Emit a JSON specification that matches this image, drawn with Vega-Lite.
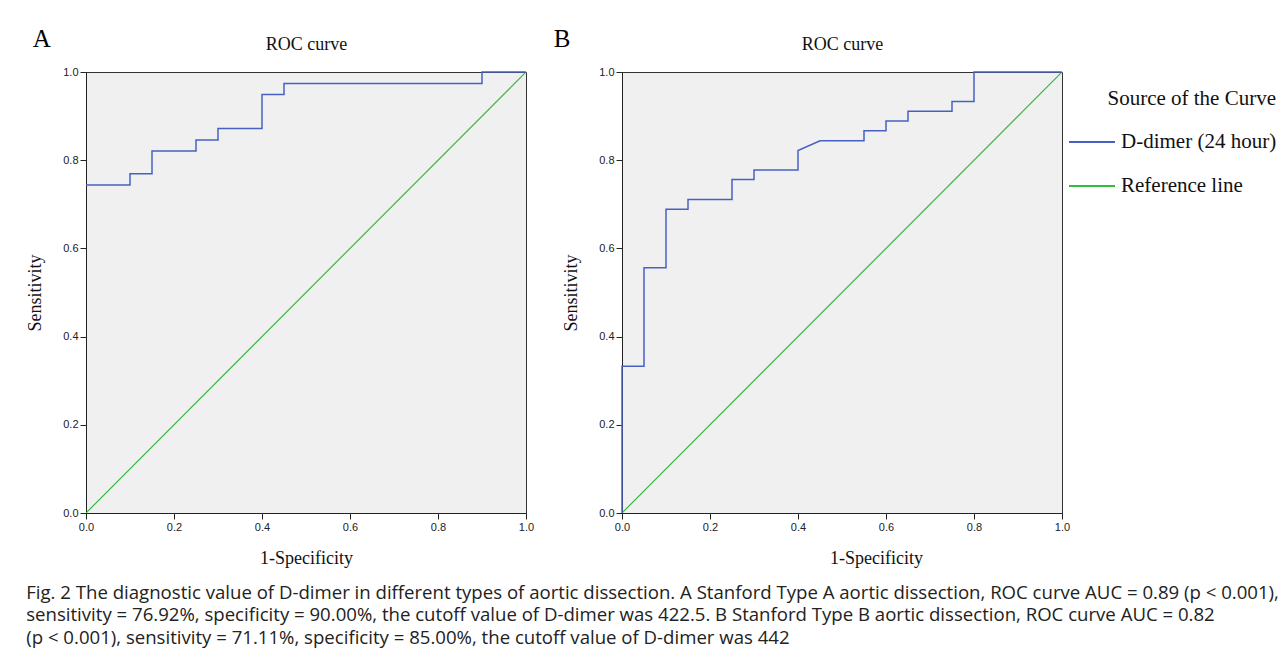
{
  "$schema": "https://vega.github.io/schema/vega-lite/v6.json",
  "background": "white",
  "padding": {"left": 26, "top": 26, "right": 0, "bottom": 8},
  "datasets": {
    "rocA": [
      {"fpr": 0.0, "tpr": 0.744, "i": 1, "series": "D-dimer (24 hour)"},
      {"fpr": 0.1, "tpr": 0.744, "i": 2, "series": "D-dimer (24 hour)"},
      {"fpr": 0.1, "tpr": 0.769, "i": 3, "series": "D-dimer (24 hour)"},
      {"fpr": 0.15, "tpr": 0.769, "i": 4, "series": "D-dimer (24 hour)"},
      {"fpr": 0.15, "tpr": 0.821, "i": 5, "series": "D-dimer (24 hour)"},
      {"fpr": 0.25, "tpr": 0.821, "i": 6, "series": "D-dimer (24 hour)"},
      {"fpr": 0.25, "tpr": 0.846, "i": 7, "series": "D-dimer (24 hour)"},
      {"fpr": 0.3, "tpr": 0.846, "i": 8, "series": "D-dimer (24 hour)"},
      {"fpr": 0.3, "tpr": 0.872, "i": 9, "series": "D-dimer (24 hour)"},
      {"fpr": 0.4, "tpr": 0.872, "i": 10, "series": "D-dimer (24 hour)"},
      {"fpr": 0.4, "tpr": 0.949, "i": 11, "series": "D-dimer (24 hour)"},
      {"fpr": 0.45, "tpr": 0.949, "i": 12, "series": "D-dimer (24 hour)"},
      {"fpr": 0.45, "tpr": 0.974, "i": 13, "series": "D-dimer (24 hour)"},
      {"fpr": 0.9, "tpr": 0.974, "i": 14, "series": "D-dimer (24 hour)"},
      {"fpr": 0.9, "tpr": 1.0, "i": 15, "series": "D-dimer (24 hour)"},
      {"fpr": 1.0, "tpr": 1.0, "i": 16, "series": "D-dimer (24 hour)"}
    ],
    "rocB": [
      {"fpr": 0.0, "tpr": 0.0, "i": 1, "series": "D-dimer (24 hour)"},
      {"fpr": 0.0, "tpr": 0.333, "i": 2, "series": "D-dimer (24 hour)"},
      {"fpr": 0.05, "tpr": 0.333, "i": 3, "series": "D-dimer (24 hour)"},
      {"fpr": 0.05, "tpr": 0.556, "i": 4, "series": "D-dimer (24 hour)"},
      {"fpr": 0.1, "tpr": 0.556, "i": 5, "series": "D-dimer (24 hour)"},
      {"fpr": 0.1, "tpr": 0.689, "i": 6, "series": "D-dimer (24 hour)"},
      {"fpr": 0.15, "tpr": 0.689, "i": 7, "series": "D-dimer (24 hour)"},
      {"fpr": 0.15, "tpr": 0.711, "i": 8, "series": "D-dimer (24 hour)"},
      {"fpr": 0.25, "tpr": 0.711, "i": 9, "series": "D-dimer (24 hour)"},
      {"fpr": 0.25, "tpr": 0.756, "i": 10, "series": "D-dimer (24 hour)"},
      {"fpr": 0.3, "tpr": 0.756, "i": 11, "series": "D-dimer (24 hour)"},
      {"fpr": 0.3, "tpr": 0.778, "i": 12, "series": "D-dimer (24 hour)"},
      {"fpr": 0.4, "tpr": 0.778, "i": 13, "series": "D-dimer (24 hour)"},
      {"fpr": 0.4, "tpr": 0.822, "i": 14, "series": "D-dimer (24 hour)"},
      {"fpr": 0.45, "tpr": 0.844, "i": 15, "series": "D-dimer (24 hour)"},
      {"fpr": 0.55, "tpr": 0.844, "i": 16, "series": "D-dimer (24 hour)"},
      {"fpr": 0.55, "tpr": 0.867, "i": 17, "series": "D-dimer (24 hour)"},
      {"fpr": 0.6, "tpr": 0.867, "i": 18, "series": "D-dimer (24 hour)"},
      {"fpr": 0.6, "tpr": 0.889, "i": 19, "series": "D-dimer (24 hour)"},
      {"fpr": 0.65, "tpr": 0.889, "i": 20, "series": "D-dimer (24 hour)"},
      {"fpr": 0.65, "tpr": 0.911, "i": 21, "series": "D-dimer (24 hour)"},
      {"fpr": 0.75, "tpr": 0.911, "i": 22, "series": "D-dimer (24 hour)"},
      {"fpr": 0.75, "tpr": 0.933, "i": 23, "series": "D-dimer (24 hour)"},
      {"fpr": 0.8, "tpr": 0.933, "i": 24, "series": "D-dimer (24 hour)"},
      {"fpr": 0.8, "tpr": 1.0, "i": 25, "series": "D-dimer (24 hour)"},
      {"fpr": 1.0, "tpr": 1.0, "i": 26, "series": "D-dimer (24 hour)"}
    ],
    "ref": [
      {"fpr": 0.0, "tpr": 0.0, "i": 1, "series": "Reference line"},
      {"fpr": 1.0, "tpr": 1.0, "i": 2, "series": "Reference line"}
    ]
  },
  "hconcat": [
    {
      "width": 440,
      "height": 441,
      "title": {"text": "A", "anchor": "start", "frame": "bounds", "fontSize": 25, "font": "Liberation Serif", "fontWeight": "normal", "offset": -17, "dx": 6},
      "layer": [
        {
          "data": {"name": "ref"},
          "mark": {"type": "line", "strokeWidth": 1.2, "clip": true},
          "encoding": {
            "x": {"field": "fpr", "type": "quantitative", "scale": {"domain": [0, 1], "nice": false},
                  "axis": {"orient": "top", "title": "ROC curve", "labels": false, "ticks": false, "domain": false, "grid": false, "titlePadding": 19}},
            "y": {"field": "tpr", "type": "quantitative", "scale": {"domain": [0, 1], "nice": false}, "axis": {"title": "Sensitivity", "values": [0, 0.2, 0.4, 0.6, 0.8, 1.0]}},
            "color": {"field": "series", "type": "nominal", "legend": {"title": "Source of the Curve"}},
            "order": {"field": "i", "type": "quantitative"}
          }
        },
        {
          "data": {"name": "rocA"},
          "mark": {"type": "line", "strokeWidth": 1.5, "clip": false},
          "encoding": {
            "x": {"field": "fpr", "type": "quantitative", "scale": {"domain": [0, 1], "nice": false}, "axis": {"title": "1-Specificity", "values": [0, 0.2, 0.4, 0.6, 0.8, 1.0]}},
            "y": {"field": "tpr", "type": "quantitative", "scale": {"domain": [0, 1], "nice": false}},
            "color": {"field": "series", "type": "nominal", "legend": {"title": "Source of the Curve"}},
            "order": {"field": "i", "type": "quantitative"}
          }
        }
      ],
      "resolve": {"axis": {"x": "independent"}}
    },
    {
      "width": 440,
      "height": 441,
      "title": {"text": "B", "anchor": "start", "frame": "bounds", "fontSize": 25, "font": "Liberation Serif", "fontWeight": "normal", "offset": -17, "dx": -9},
      "layer": [
        {
          "data": {"name": "ref"},
          "mark": {"type": "line", "strokeWidth": 1.2, "clip": true},
          "encoding": {
            "x": {"field": "fpr", "type": "quantitative", "scale": {"domain": [0, 1], "nice": false},
                  "axis": {"orient": "top", "title": "ROC curve", "labels": false, "ticks": false, "domain": false, "grid": false, "titlePadding": 19}},
            "y": {"field": "tpr", "type": "quantitative", "scale": {"domain": [0, 1], "nice": false}, "axis": {"title": "Sensitivity", "values": [0, 0.2, 0.4, 0.6, 0.8, 1.0]}},
            "color": {"field": "series", "type": "nominal", "legend": {"title": "Source of the Curve"}},
            "order": {"field": "i", "type": "quantitative"}
          }
        },
        {
          "data": {"name": "rocB"},
          "mark": {"type": "line", "strokeWidth": 1.5, "clip": false},
          "encoding": {
            "x": {"field": "fpr", "type": "quantitative", "scale": {"domain": [0, 1], "nice": false}, "axis": {"title": "1-Specificity", "titleX": 254, "values": [0, 0.2, 0.4, 0.6, 0.8, 1.0]}},
            "y": {"field": "tpr", "type": "quantitative", "scale": {"domain": [0, 1], "nice": false}},
            "color": {"field": "series", "type": "nominal", "legend": {"title": "Source of the Curve"}},
            "order": {"field": "i", "type": "quantitative"}
          }
        }
      ],
      "resolve": {"axis": {"x": "independent"}}
    }
  ],
  "spacing": 18,
  "resolve": {"scale": {"color": "shared"}},
  "title": {
    "text": [
      "Fig. 2  The diagnostic value of D-dimer in different types of aortic dissection. A Stanford Type A aortic dissection, ROC curve AUC = 0.89 (p < 0.001),",
      "sensitivity = 76.92%, specificity = 90.00%, the cutoff value of D-dimer was 422.5. B Stanford Type B aortic dissection, ROC curve AUC = 0.82",
      "(p < 0.001), sensitivity = 71.11%, specificity = 85.00%, the cutoff value of D-dimer was 442"
    ],
    "orient": "bottom",
    "anchor": "start",
    "frame": "bounds",
    "font": "Open Sans",
    "fontSize": 18.6,
    "fontWeight": "normal",
    "lineHeight": 22.5,
    "color": "#222222",
    "offset": 16
  },
  "config": {
    "view": {"fill": "#f0f0f0", "stroke": "#333333", "strokeWidth": 1},
    "range": {"category": ["#4660c4", "#33bb3c"]},
    "axis": {
      "grid": false,
      "domain": true,
      "domainColor": "#222222",
      "tickColor": "#222222",
      "tickSize": 6,
      "labelFont": "Liberation Sans",
      "labelFontSize": 11,
      "labelColor": "#222222",
      "labelPadding": 2,
      "titleFont": "Liberation Serif",
      "titleFontSize": 18,
      "titleFontWeight": "normal",
      "titleColor": "#111111",
      "format": ".1f",
      "labelFlush": false
    },
    "axisX": {"titlePadding": 17},
    "axisY": {"titlePadding": 18},
    "legend": {
      "orient": "right",
      "offset": -19,
      "padding": 16,
      "titleFont": "Liberation Serif",
      "titleFontSize": 21,
      "titleFontWeight": "normal",
      "titleColor": "#111111",
      "titleAnchor": "end",
      "titlePadding": 9,
      "labelFont": "Liberation Serif",
      "labelFontSize": 21,
      "labelColor": "#111111",
      "labelOffset": 5,
      "labelLimit": 300,
      "symbolType": "stroke",
      "symbolSize": 2116,
      "symbolStrokeWidth": 2,
      "rowPadding": 10
    }
  }
}
